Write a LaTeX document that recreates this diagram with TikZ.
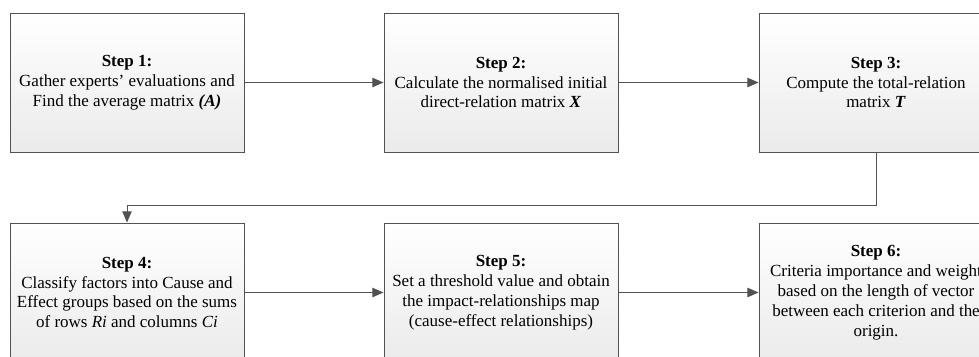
\documentclass[tikz,border=0pt]{standalone}
\usepackage{fontspec}
\setmainfont{Liberation Serif}
\usetikzlibrary{arrows.meta,shadows}
\definecolor{edge}{gray}{0.32}
\definecolor{boxgray}{gray}{0.92}

\begin{document}
\begin{tikzpicture}[
  x=1cm,y=1cm,
  font=\fontsize{14.5}{17}\selectfont,
  stepbox/.style={draw=edge,line width=0.8pt,top color=white,bottom color=boxgray,
                  drop shadow={shadow xshift=1.2pt,shadow yshift=-1.2pt,
                               fill=black!45,opacity=0.5},
                  minimum width=7.02cm,minimum height=4.17cm,
                  align=center,inner sep=2pt},
  flow/.style={line width=0.8pt,edge,-{Triangle[length=9.5pt,width=8pt]}},
]
\useasboundingbox (0,0) rectangle (29.37,10.68);

% ---- top row ----
\node[stepbox] (s1) at (3.81,8.205)
  {\textbf{Step 1:}\\Gather experts' evaluations and\\
   Find the average matrix \textbf{\textit{(A)}}};
\node[stepbox] (s2) at (15.03,8.205)
  {\textbf{Step 2:}\\Calculate the normalised initial\\
   direct-relation matrix \textbf{\textit{X}}};
\node[stepbox] (s3) at (26.28,8.205)
  {\textbf{Step 3:}\\Compute the total-relation\\matrix \textbf{\textit{T}}};

% ---- bottom row ----
\node[stepbox] (s4) at (3.81,1.905)
  {\textbf{Step 4:}\\Classify factors into Cause and\\
   Effect groups based on the sums\\of rows \textit{Ri} and columns \textit{Ci}};
\node[stepbox] (s5) at (15.03,1.905)
  {\textbf{Step 5:}\\Set a threshold value and obtain\\
   the impact-relationships map\\(cause-effect relationships)};
\node[stepbox] (s6) at (26.28,1.905)
  {\textbf{Step 6:}\\Criteria importance and weight\\
   based on the length of vector\\between each criterion and the\\origin.};

% ---- connectors ----
\draw[flow] (s1) -- (s2);
\draw[flow] (s2) -- (s3);
\draw[flow] (s3.south) -- ++(0,-1.6) -| (s4.north);
\draw[flow] (s4) -- (s5);
\draw[flow] (s5) -- (s6);

\end{tikzpicture}
\end{document}
